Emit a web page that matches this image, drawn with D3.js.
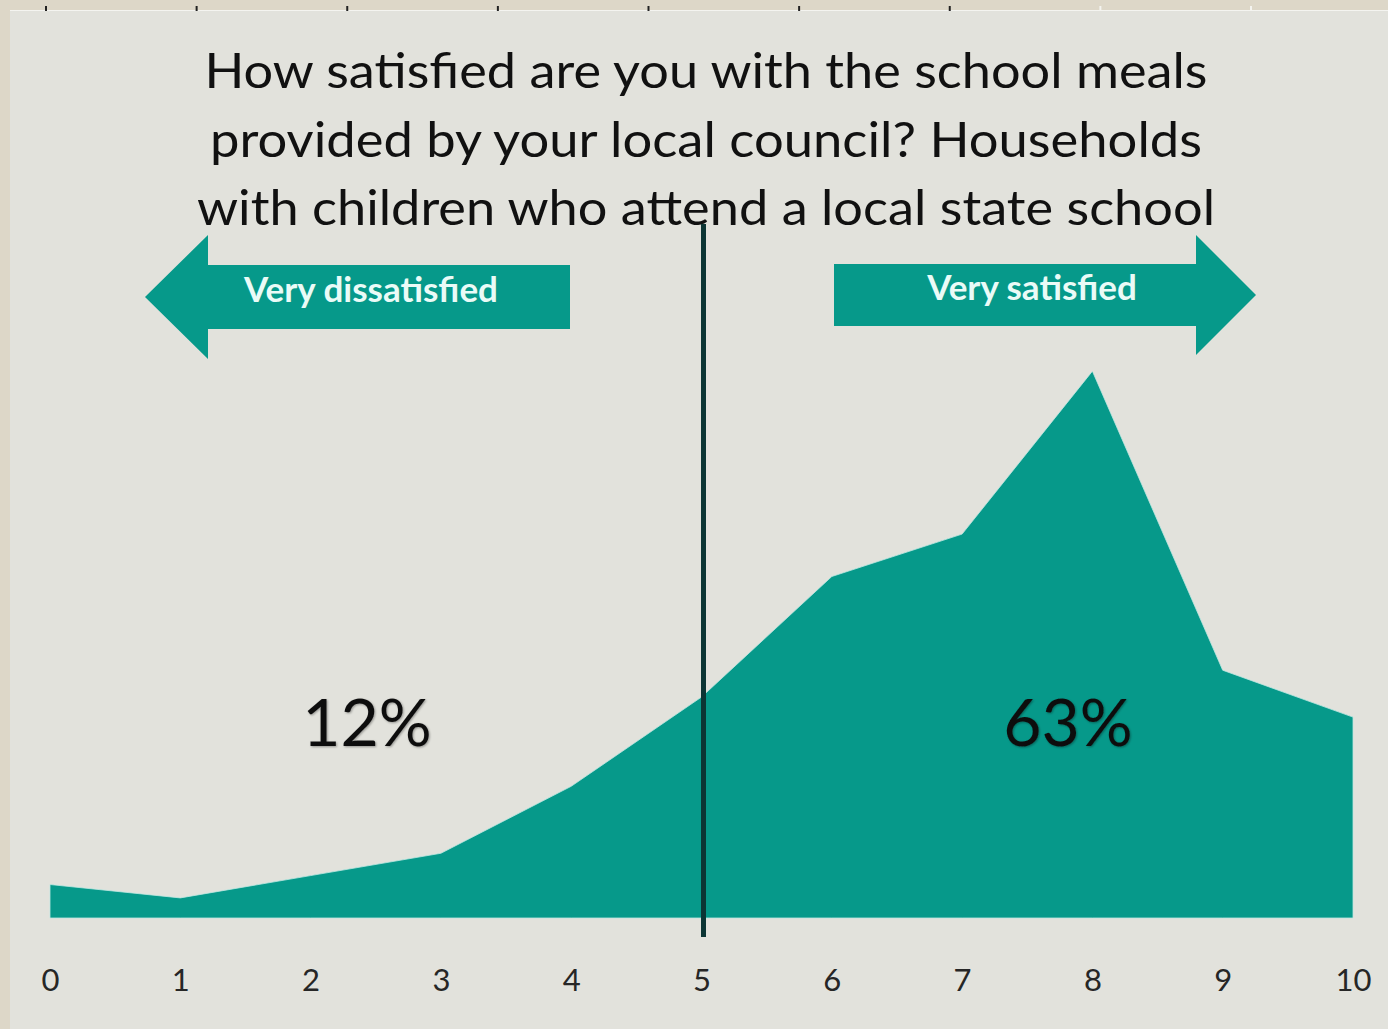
<!DOCTYPE html>
<html>
<head>
<meta charset="utf-8">
<script src="https://cdn.jsdelivr.net/npm/d3@7"></script>
<style>
  html, body { margin: 0; padding: 0; background: #ddd7c8; }
  #viz { width: 1388px; height: 1029px; }
  text { font-family: Lato, "Open Sans", sans-serif; }
</style>
</head>
<body>
<div id="viz"></div>
<script>
// School meals satisfaction - area chart

const width = 1388;
const height = 1029;

const scores = [0, 1, 2, 3, 4, 5, 6, 7, 8, 9, 10];
const shares = [1.5, 0.9, 1.9, 2.9, 5.9, 9.9, 15.3, 17.2, 24.5, 11.1, 9.0];
const titleLines = [
    "How satisfied are you with the school meals",
    "provided by your local council? Households",
    "with children who attend a local state school"
];
const titleWidths = [1003, 992, 1018];
const arrowLabels = ["Very dissatisfied", "Very satisfied"];
const groupLabels = ["12%", "63%"];
const rulerTicks = [0, 1, 2, 3, 4, 5, 6, 7, 8];

const teal = "#06998a";

const svg = d3.select("#viz")
    .append("svg")
    .attr("width", width)
    .attr("height", height);

// slide frame
svg.append("rect").attr("width", width).attr("height", height).attr("fill", "#ddd7c8");
svg.append("rect")
    .attr("x", 10).attr("y", 10)
    .attr("width", width - 10).attr("height", height - 10)
    .attr("fill", "#e2e2dc");
svg.append("line")
    .attr("x1", 10).attr("x2", width)
    .attr("y1", 10.5).attr("y2", 10.5)
    .attr("stroke", "#f4f4f0").attr("stroke-width", 1);

const ruler = d3.scaleLinear().domain([0, 8]).range([46, 1251]);
svg.append("g")
    .selectAll("line")
    .data(rulerTicks)
    .enter().append("line")
    .attr("x1", d => ruler(d)).attr("x2", d => ruler(d))
    .attr("y1", 6).attr("y2", 11)
    .attr("stroke", d => d < 7 ? "#222" : "#f4f4f0")
    .attr("stroke-width", 2);

const x = d3.scaleLinear().domain([0, 10]).range([50, 1353]);
const y = d3.scaleLinear().domain([0, 25]).range([918, 360]);

const area = d3.area()
    .x((d, i) => x(scores[i]))
    .y0(y(0))
    .y1(d => y(d));

svg.append("path")
    .datum(shares)
    .attr("d", area)
    .attr("fill", teal)
    .attr("stroke", "#bfe9e2")
    .attr("stroke-width", 0.8);

// x axis labels
const xAxis = svg.append("g")
    .attr("transform", `translate(0, ${966})`)
    .call(d3.axisBottom(x).tickValues(scores).tickSize(0).tickFormat(d3.format("d")));
xAxis.select(".domain").remove();
xAxis.selectAll("text")
    .attr("font-family", "Lato, sans-serif")
    .attr("font-size", 31)
    .attr("fill", "#262626")
    .attr("dy", "0.71em");

// title
svg.append("g")
    .selectAll("text")
    .data(titleLines)
    .enter().append("text")
    .attr("x", 706)
    .attr("y", (d, i) => 88 + i * 68.5)
    .attr("text-anchor", "middle")
    .attr("font-size", 49)
    .attr("textLength", (d, i) => titleWidths[i])
    .attr("lengthAdjust", "spacingAndGlyphs")
    .attr("fill", "#111")
    .text(d => d);

// divider at 5
svg.append("line")
    .attr("x1", x(5) + 2).attr("x2", x(5) + 2)
    .attr("y1", 224).attr("y2", 937)
    .attr("stroke", "#0c3534")
    .attr("stroke-width", 5);

// arrows
function arrow(tipX, headX, endX, midY, bodyHalf, headHalf) {
    const pts = [
        [tipX, midY],
        [headX, midY - headHalf],
        [headX, midY - bodyHalf],
        [endX, midY - bodyHalf],
        [endX, midY + bodyHalf],
        [headX, midY + bodyHalf],
        [headX, midY + headHalf]
    ];
    return d3.line()(pts) + "Z";
}

svg.append("path")
    .attr("d", arrow(145, 208, 570, 297, 32, 62))
    .attr("fill", teal);
svg.append("path")
    .attr("d", arrow(1256, 1196, 834, 295, 31, 60))
    .attr("fill", teal);

svg.append("text")
    .attr("x", 371).attr("y", 302)
    .attr("text-anchor", "middle")
    .attr("font-size", 35)
    .attr("font-weight", "bold")
    .attr("fill", "#eafbf7")
    .text(arrowLabels[0]);
svg.append("text")
    .attr("x", 1032).attr("y", 300)
    .attr("text-anchor", "middle")
    .attr("font-size", 35)
    .attr("font-weight", "bold")
    .attr("fill", "#eafbf7")
    .text(arrowLabels[1]);

// group shares
const shadow = svg.append("defs").append("filter").attr("id", "soft");
shadow.append("feDropShadow")
    .attr("dx", 1).attr("dy", 1).attr("stdDeviation", 1.2)
    .attr("flood-color", "#000").attr("flood-opacity", 0.35);

svg.append("g")
    .selectAll("text")
    .data(groupLabels)
    .enter().append("text")
    .attr("x", (d, i) => i === 0 ? 367 : 1068)
    .attr("y", 746)
    .attr("text-anchor", "middle")
    .attr("font-size", 66)
    .attr("fill", "#111")
    .attr("filter", "url(#soft)")
    .text(d => d);
</script>
</body>
</html>
